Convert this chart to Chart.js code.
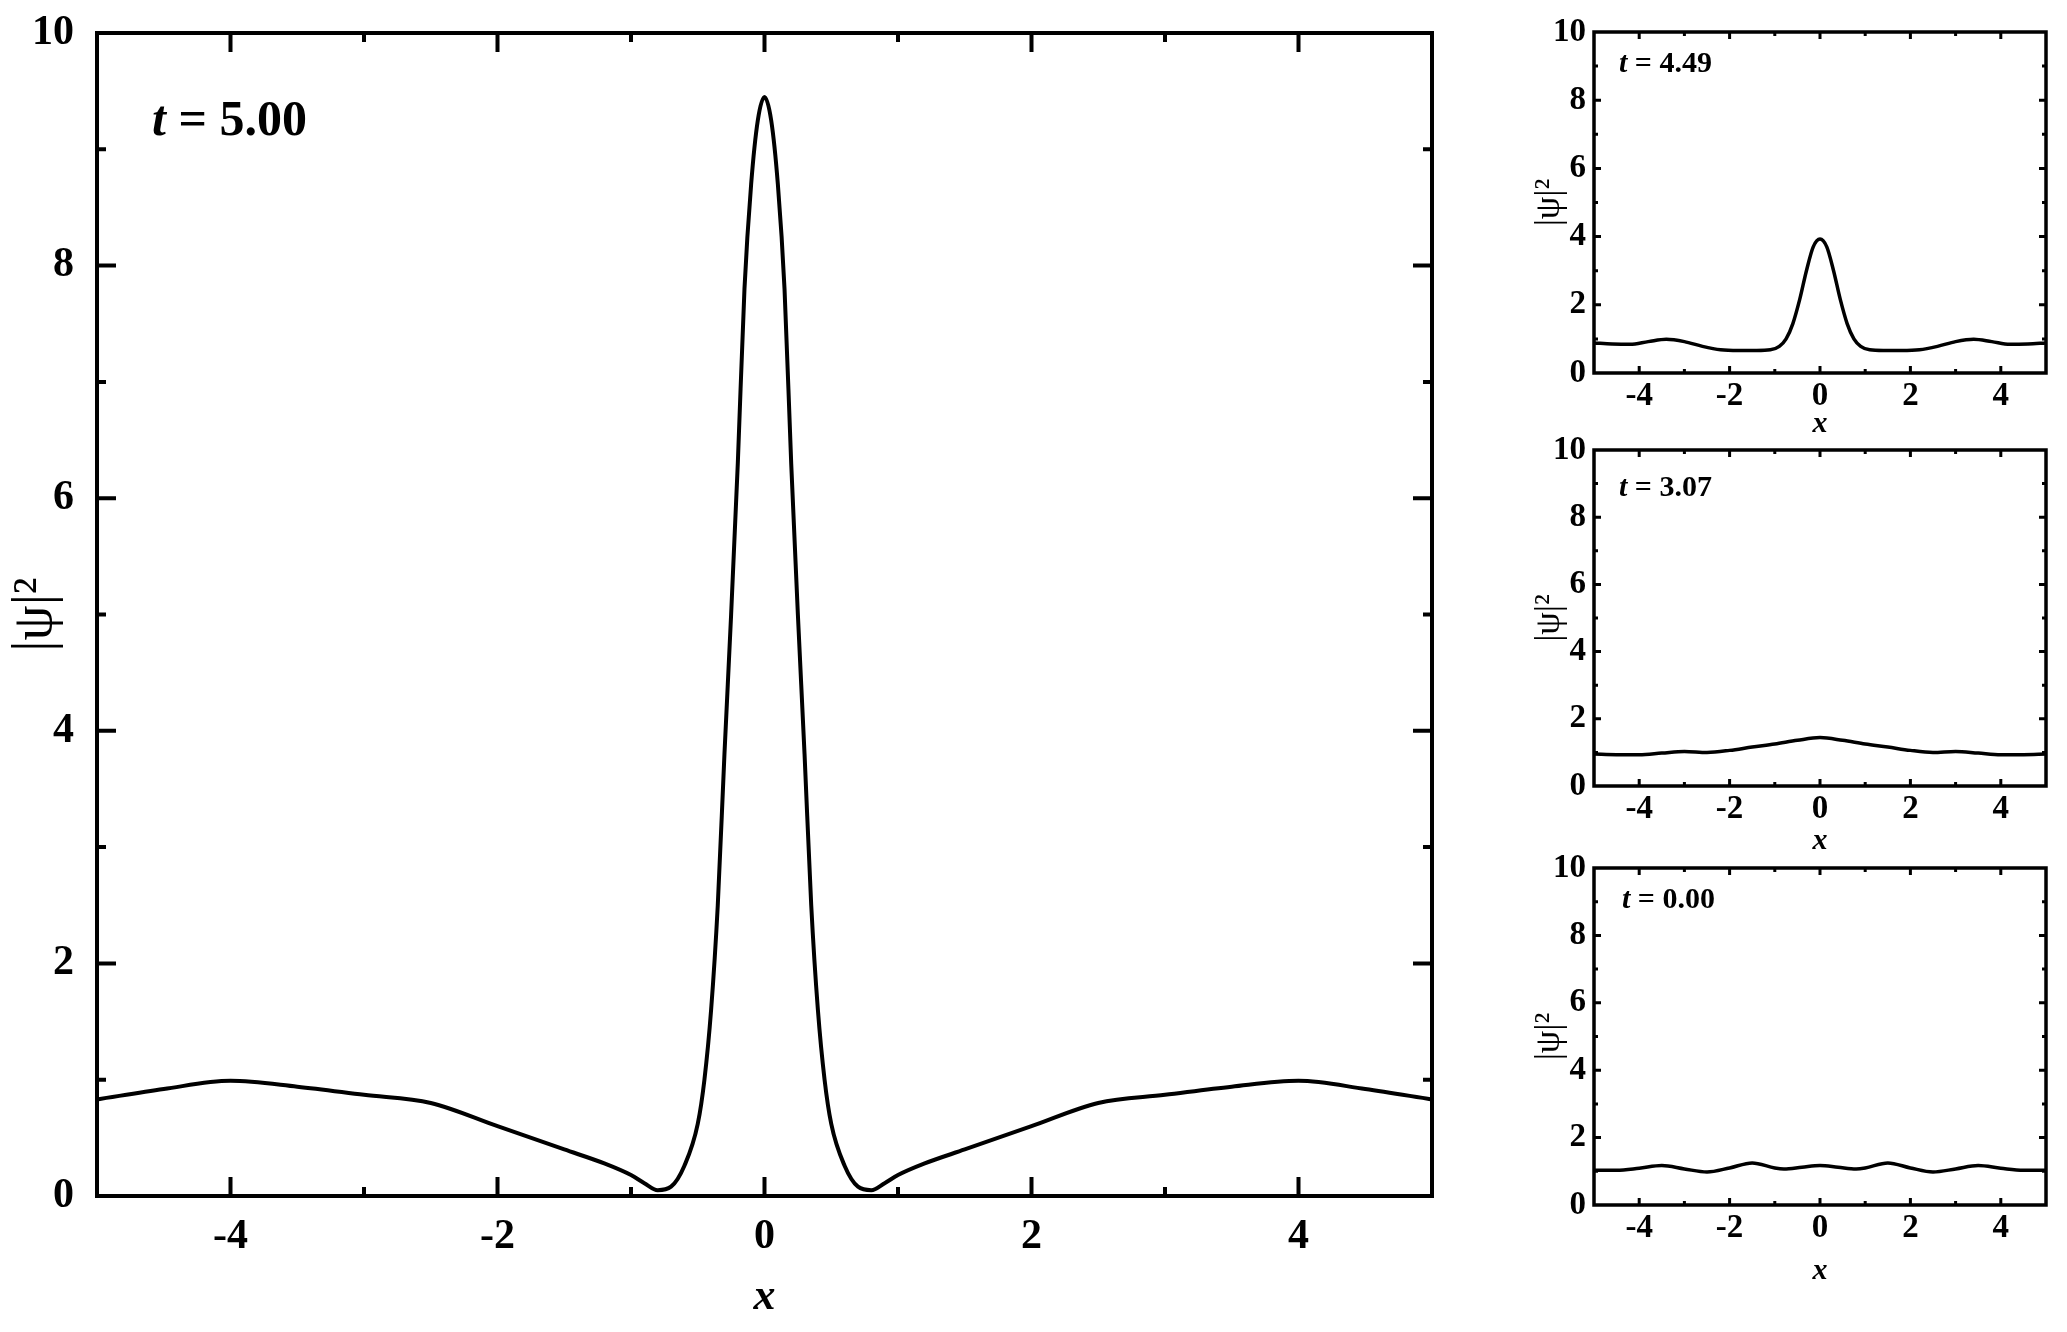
<!DOCTYPE html>
<html><head><meta charset="utf-8">
<script src="https://cdn.jsdelivr.net/npm/chart.js@4.4.1/dist/chart.umd.min.js"></script>
<style>
html,body{margin:0;padding:0;background:#fff;}
#wrap{position:relative;width:2067px;height:1332px;overflow:hidden;background:#fff;}
canvas{position:absolute;}
.lbl{position:absolute;font-family:"Liberation Serif","Times New Roman",serif;font-weight:bold;color:#000;white-space:nowrap;line-height:1;}
</style></head><body>
<div id="wrap">
<canvas id="c0"></canvas><canvas id="c1"></canvas><canvas id="c2"></canvas><canvas id="c3"></canvas>
<div class="lbl" id="a0" style="left:152px;top:93px;font-size:50px;"><i>t</i> = 5.00</div>
<div class="lbl" id="a1" style="left:1619px;top:47px;font-size:30px;"><i>t</i> = 4.49</div>
<div class="lbl" id="a2" style="left:1619px;top:471px;font-size:30px;"><i>t</i> = 3.07</div>
<div class="lbl" id="a3" style="left:1622px;top:883px;font-size:30px;"><i>t</i> = 0.00</div>
</div>
<script>
// ---- tick labels ----
const xTicks = [-4, -2, 0, 2, 4];
const yTicks = [0, 2, 4, 6, 8, 10];

// ---- main panel, t = 5.00 ----
const mainX = [-5, -4.5, -4, -3.5, -3, -2.5, -2, -1.5, -1.2, -1, -0.9, -0.8, -0.7, -0.6, -0.5, -0.45, -0.4, -0.35, -0.3, -0.25, -0.2, -0.15, -0.1, -0.05, 0,
               0.05, 0.1, 0.15, 0.2, 0.25, 0.3, 0.35, 0.4, 0.45, 0.5, 0.6, 0.7, 0.8, 0.9, 1, 1.2, 1.5, 2, 2.5, 3, 3.5, 4, 4.5, 5];
const mainY = [0.83, 0.92, 0.99, 0.94, 0.87, 0.80, 0.60, 0.40, 0.28, 0.18, 0.11, 0.05, 0.08, 0.26, 0.62, 1.0, 1.6, 2.5, 3.8, 5.0, 6.3, 7.8, 8.7, 9.25, 9.45,
               9.25, 8.7, 7.8, 6.3, 5.0, 3.8, 2.5, 1.6, 1.0, 0.62, 0.26, 0.08, 0.05, 0.11, 0.18, 0.28, 0.40, 0.60, 0.80, 0.87, 0.94, 0.99, 0.92, 0.83];

// ---- small panel 1, t = 4.49 ----
const p1X = [-5, -4.6, -4.2, -3.8, -3.4, -3, -2.6, -2.2, -1.8, -1.4, -1.1, -0.9, -0.75, -0.6, -0.45, -0.3, -0.15, 0,
             0.15, 0.3, 0.45, 0.6, 0.75, 0.9, 1.1, 1.4, 1.8, 2.2, 2.6, 3, 3.4, 3.8, 4.2, 4.6, 5];
const p1Y = [0.88, 0.85, 0.84, 0.92, 0.99, 0.92, 0.78, 0.68, 0.66, 0.66, 0.68, 0.78, 1.0, 1.45, 2.15, 3.0, 3.7, 3.93,
             3.7, 3.0, 2.15, 1.45, 1.0, 0.78, 0.68, 0.66, 0.66, 0.68, 0.78, 0.92, 0.99, 0.92, 0.84, 0.85, 0.88];

// ---- small panel 2, t = 3.07 ----
const p2X = [-5, -4.5, -4, -3.5, -3, -2.5, -2, -1.5, -1, -0.5, 0, 0.5, 1, 1.5, 2, 2.5, 3, 3.5, 4, 4.5, 5];
const p2Y = [0.95, 0.93, 0.93, 0.98, 1.03, 1.0, 1.06, 1.16, 1.25, 1.36, 1.44, 1.36, 1.25, 1.16, 1.06, 1.0, 1.03, 0.98, 0.93, 0.93, 0.95];

// ---- small panel 3, t = 0.00 ----
const p3X = [-5, -4.5, -4, -3.5, -3, -2.5, -2, -1.5, -1, -0.8, -0.4, 0, 0.4, 0.8, 1, 1.5, 2, 2.5, 3, 3.5, 4, 4.5, 5];
const p3Y = [1.03, 1.03, 1.09, 1.17, 1.07, 0.98, 1.10, 1.25, 1.10, 1.07, 1.12, 1.17, 1.12, 1.07, 1.10, 1.25, 1.10, 0.98, 1.07, 1.17, 1.09, 1.03, 1.03];

const FF = '"Liberation Serif", "Times New Roman", serif';

const frameTicks = {
  id: 'frameTicks',
  afterDatasetsDraw(chart, args, o) {
    const {ctx, chartArea: a, scales} = chart;
    const sx = scales.x, sy = scales.y;
    ctx.save();
    ctx.strokeStyle = '#000';
    ctx.lineCap = 'butt';
    ctx.lineWidth = o.tickWidth;
    ctx.beginPath();
    for (let v = -4; v <= 4; v++) {
      const L = (v % 2 === 0) ? o.major : o.minor;
      const px = sx.getPixelForValue(v);
      ctx.moveTo(px, a.bottom); ctx.lineTo(px, a.bottom - L);
      ctx.moveTo(px, a.top); ctx.lineTo(px, a.top + L);
    }
    for (let v = 1; v <= 9; v++) {
      const L = (v % 2 === 0) ? o.major : o.minor;
      const py = sy.getPixelForValue(v);
      ctx.moveTo(a.left, py); ctx.lineTo(a.left + L, py);
      ctx.moveTo(a.right, py); ctx.lineTo(a.right - L, py);
    }
    ctx.stroke();
    ctx.lineWidth = o.frameWidth;
    ctx.lineJoin = 'miter';
    ctx.strokeRect(a.left, a.top, a.right - a.left, a.bottom - a.top);
    ctx.restore();
  }
};

function fmt(v) { return v < 0 ? '-' + Math.abs(v) : String(v); }

function makeChart(id, box, target, xs, ys, s) {
  const cv = document.getElementById(id);
  cv.width = box.w; cv.height = box.h;
  cv.style.left = box.x + 'px'; cv.style.top = box.y + 'px';
  cv.style.width = box.w + 'px'; cv.style.height = box.h + 'px';
  const ch = new Chart(cv, {
    type: 'line',
    data: { datasets: [{
      data: xs.map((x, i) => ({x: x, y: ys[i]})),
      borderColor: '#000', borderWidth: s.lw, pointRadius: 0,
      cubicInterpolationMode: 'monotone', fill: false
    }]},
    options: {
      responsive: false, animation: false, devicePixelRatio: 1,
      layout: { padding: { top: s.padTop, right: s.padRight, left: 0, bottom: 0 } },
      plugins: {
        legend: { display: false }, tooltip: { enabled: false },
        frameTicks: { tickWidth: s.tickW, major: s.major, minor: s.minor, frameWidth: s.frameW }
      },
      scales: {
        x: {
          type: 'linear', min: -5, max: 5,
          grid: { display: false, drawTicks: true, tickLength: s.xPad }, border: { display: false },
          afterBuildTicks: sc => { sc.ticks = xTicks.map(v => ({value: v})); },
          afterFit: sc => { sc.height = s.xH; },
          ticks: { color: '#000', font: { family: FF, size: s.tickSize, weight: 'bold' }, padding: 0,
                   maxRotation: 0, autoSkip: false, callback: v => fmt(v) },
          title: { display: true, text: 'x', color: '#000',
                   font: { family: FF, size: s.xTitleSize, weight: 'bold', style: 'italic', lineHeight: 1 },
                   padding: { top: 0, bottom: s.xTitlePad } }
        },
        y: {
          type: 'linear', min: 0, max: 10,
          grid: { display: false, drawTicks: true, tickLength: s.yPad }, border: { display: false },
          afterBuildTicks: sc => { sc.ticks = yTicks.map(v => ({value: v})); },
          afterFit: sc => { sc.width = s.yW; },
          ticks: { color: '#000', font: { family: FF, size: s.tickSize, weight: 'bold' }, padding: 0,
                   autoSkip: false, callback: v => fmt(v) },
          title: { display: true, text: '|ψ|²', color: '#000',
                   font: { family: FF, size: s.yTitleSize, weight: 'normal', lineHeight: 1 },
                   padding: { top: s.yTitlePad, bottom: 0 } }
        }
      }
    },
    plugins: [frameTicks]
  });
  // nudge layout so the plot area lands exactly on the target frame
  for (let i = 0; i < 4; i++) {
    const a = ch.chartArea;
    const dt = (target.top - box.y) - a.top;
    const dl = (target.left - box.x) - a.left;
    const dr = a.right - (target.right - box.x);
    const db = a.bottom - (target.bottom - box.y);
    if (Math.abs(dt) + Math.abs(dl) + Math.abs(dr) + Math.abs(db) < 0.5) break;
    s.padTop += dt; s.padRight += dr; s.yW += dl; s.xH += db; s.xTitlePad += db;
    ch.options.layout.padding = { top: s.padTop, right: s.padRight, left: 0, bottom: 0 };
    ch.options.scales.x.title.padding = { top: 0, bottom: s.xTitlePad };
    ch.update('none');
  }
  return ch;
}

// main panel: area left 97, right 1432, top 33, bottom 1196
makeChart('c0', {x: 0, y: 0, w: 1470, h: 1332}, {left: 97, right: 1432, top: 33, bottom: 1196}, mainX, mainY, {
  lw: 4, padTop: 33, padRight: 38, yW: 97, xH: 136, tickSize: 42, xPad: 16, yPad: 23,
  xTitleSize: 44, xTitlePad: 12, yTitleSize: 56, yTitlePad: 8,
  tickW: 4, major: 19, minor: 9, frameW: 4
});

function small(id, top, bottom, titleOff, xs, ys) {
  const xH = 90;
  makeChart(id, {x: 1500, y: top - 32, w: 567, h: (bottom - top) + 32 + xH},
    {left: 1594, right: 2046, top: top, bottom: bottom}, xs, ys, {
    lw: 3.5, padTop: 32, padRight: 21, yW: 94, xH: xH, tickSize: 33, xPad: 4, yPad: 8,
    xTitleSize: 30, xTitlePad: xH - titleOff - 15, yTitleSize: 36, yTitlePad: 32,
    tickW: 3, major: 7, minor: 4, frameW: 3.5
  });
}
small('c1', 32, 373, 51, p1X, p1Y);
small('c2', 450, 786, 55, p2X, p2Y);
small('c3', 868, 1205, 66, p3X, p3Y);
</script>
</body></html>
